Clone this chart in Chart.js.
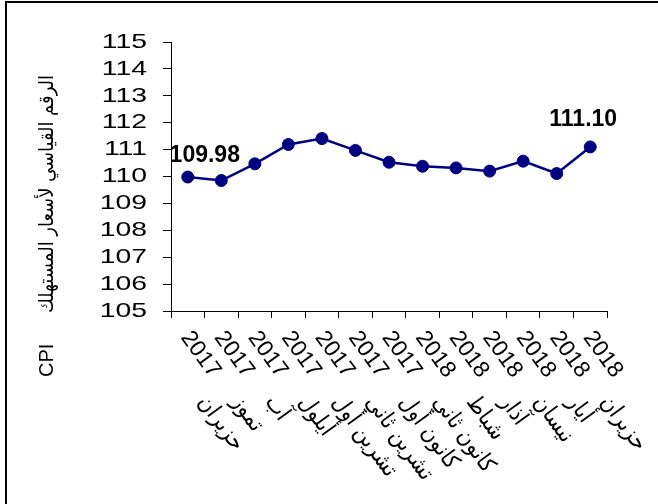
<!DOCTYPE html>
<html><head><meta charset="utf-8">
<script src="https://cdn.jsdelivr.net/npm/chart.js@4/dist/chart.umd.min.js"></script>
<style>html,body{margin:0;padding:0;background:#fff;}canvas{display:block;}</style>
</head><body>
<canvas id="c" width="658" height="504"></canvas>
<script>
// ---- data ----
const years = ["2017","2017","2017","2017","2017","2017","2017","2018","2018","2018","2018","2018","2018"];
const months = ["حزيران","تموز","آب","أيلول","تشرين أول","تشرين ثاني","كانون أول","كانون ثاني","شباط","آذار","نيسان","أيار","حزيران"];
const cpiValues = [109.98,109.85,110.47,111.19,111.41,110.97,110.53,110.38,110.32,110.20,110.57,110.11,111.10];
const labeledPoints = [0, 12];
const yMin = 105, yMax = 115, yStep = 1;
const yTitleLatin = "CPI";
const yTitleArabic = "الرقم القياسي لأسعار المستهلك";

const FONT = '"Liberation Sans", Arial, "DejaVu Sans Condensed", "DejaVu Sans", sans-serif';
const NAVY = '#000080';

const drawPlugin = {
  id: 'custom',
  beforeDraw(chart) {
    const ctx = chart.ctx;
    ctx.save();
    ctx.fillStyle = '#fff';
    ctx.fillRect(0, 0, chart.width, chart.height);
    ctx.fillStyle = '#000';
    ctx.fillRect(5, 1, 2, chart.height);   // left frame
    ctx.fillRect(5, 1, chart.width, 2);    // top frame
    ctx.restore();
  },
  afterDatasetsDraw(chart) {
    const ctx = chart.ctx;
    const meta = chart.getDatasetMeta(0);
    const offs = {0: [17, -21], 12: [-7, -27]};
    ctx.save();
    ctx.fillStyle = '#000';
    ctx.font = 'bold 23px ' + FONT;
    ctx.textAlign = 'center';
    ctx.textBaseline = 'middle';
    labeledPoints.forEach(i => {
      const p = meta.data[i];
      const o = offs[i] || [0, -20];
      ctx.fillText(cpiValues[i].toFixed(2), p.x + o[0], p.y + o[1]);
    });
    ctx.restore();
  },
  afterDraw(chart) {
    const ctx = chart.ctx;
    const xs = chart.scales.x, ys = chart.scales.y;
    ctx.save();
    ctx.fillStyle = '#000';
    // y tick labels (horizontally stretched like the original)
    ctx.font = '21px ' + FONT;
    ctx.textAlign = 'right';
    ctx.textBaseline = 'middle';
    ys.ticks.forEach(t => {
      const y = ys.getPixelForValue(t.value);
      ctx.save();
      ctx.translate(147, y);
      ctx.scale(1.35, 1);
      ctx.fillText(String(t.value), 0, 0);
      ctx.restore();
    });
    // x labels, rotated clockwise
    ctx.textAlign = 'left';
    ctx.textBaseline = 'top';
    const ang = 54 * Math.PI / 180;
    years.forEach((yr, i) => {
      const x = xs.getPixelForValue(i);
      ctx.save();
      ctx.translate(x + 7, 327);
      ctx.rotate(ang);
      ctx.font = '23px ' + FONT;
      ctx.fillText(yr, 0, 0);
      ctx.font = '23px ' + FONT;
      ctx.fillText(months[i], 62, 24);
      ctx.restore();
    });
    // y axis title
    ctx.font = '20px ' + FONT;
    ctx.textBaseline = 'middle';
    ctx.save();
    ctx.translate(47, 377);
    ctx.rotate(-Math.PI / 2);
    ctx.textAlign = 'left';
    ctx.fillText(yTitleLatin, 0, 0);
    ctx.restore();
    ctx.save();
    ctx.translate(47, 194);
    ctx.rotate(-Math.PI / 2);
    ctx.textAlign = 'center';
    ctx.fillText(yTitleArabic, 0, 0, 248);
    ctx.restore();
    ctx.restore();
  }
};

new Chart(document.getElementById('c'), {
  type: 'line',
  data: {
    labels: months.map((m, i) => [years[i], m]),
    datasets: [{
      data: cpiValues,
      borderColor: NAVY,
      backgroundColor: NAVY,
      pointBackgroundColor: NAVY,
      pointBorderColor: NAVY,
      pointRadius: 6,
      pointBorderWidth: 1,
      borderWidth: 2.5,
      tension: 0
    }]
  },
  options: {
    responsive: false,
    animation: false,
    devicePixelRatio: 1,
    layout: {padding: {left: 163, right: 51, top: 42, bottom: 186}},
    plugins: {legend: {display: false}, tooltip: {enabled: false}},
    scales: {
      x: {
        offset: true,
        grid: {offset: true, drawOnChartArea: false, drawTicks: true, tickLength: 7, color: '#000', lineWidth: 1},
        border: {display: true, color: '#000', width: 1},
        ticks: {display: false}
      },
      y: {
        min: yMin, max: yMax,
        ticks: {display: false, stepSize: yStep},
        grid: {drawOnChartArea: false, drawTicks: true, tickLength: 8, color: '#000', lineWidth: 1},
        border: {display: true, color: '#000', width: 1}
      }
    }
  },
  plugins: [drawPlugin]
});
</script>
</body></html>
